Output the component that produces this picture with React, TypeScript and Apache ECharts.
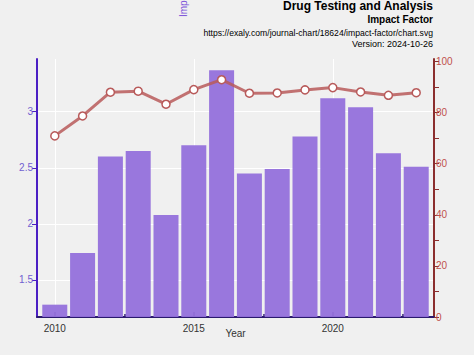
import React, { useEffect, useRef } from "react";
import * as echarts from "echarts";

const years = [2010, 2011, 2012, 2013, 2014, 2015, 2016, 2017, 2018, 2019, 2020, 2021, 2022, 2023];
const impactFactor = [1.28, 1.74, 2.6, 2.65, 2.08, 2.7, 3.37, 2.45, 2.49, 2.78, 3.12, 3.04, 2.63, 2.51];
const percentile = [70.9, 78.7, 88.0, 88.4, 83.3, 89.0, 92.9, 87.6, 87.7, 88.9, 89.8, 88.1, 86.8, 87.8];
const xLabelTicks = [2010, 2015, 2020];
const xMinorTicks = [2012.5, 2017.5, 2022.5];
const leftTicks = [1.5, 2, 2.5, 3];
const rightLabelTicks = [0, 20, 40, 60, 80, 100];
const rightAllTicks = [0, 10, 20, 30, 40, 50, 60, 70, 80, 90, 100];

const FONT = "Liberation Sans, Arial, sans-serif";

export default function App() {
  const ref = useRef<HTMLDivElement>(null);
  useEffect(() => {
    const chart = echarts.init(ref.current!, null, { renderer: "svg" });
    chart.setOption({
      animation: false,
      backgroundColor: "#f0f0f0",
      textStyle: { fontFamily: FONT },
      grid: { left: 37, right: 40, top: 59, bottom: 38 },
      xAxis: [
        {
          type: "value",
          min: 2009.36,
          max: 2023.64,
          axisLine: { show: true, lineStyle: { color: "#2b1a6e", width: 2 } },
          axisTick: { show: true, inside: true, length: 5, customValues: xLabelTicks, lineStyle: { color: "#2b1a6e", width: 1.5 } },
          axisLabel: { customValues: xLabelTicks, formatter: (v: number) => String(v), color: "#333", fontSize: 10, fontFamily: FONT, margin: 6 },
          splitLine: { show: false },
          name: "Year",
          nameLocation: "middle",
          nameGap: 11,
          nameMoveOverlap: false,
          nameTextStyle: { color: "#333", fontSize: 10, fontFamily: FONT },
        },
        {
          type: "value",
          min: 2009.36,
          max: 2023.64,
          position: "bottom",
          axisLine: { show: false },
          axisTick: { show: true, inside: true, length: 3, customValues: xMinorTicks, lineStyle: { color: "#2b1a6e", width: 1.5 } },
          axisLabel: { show: false },
          splitLine: { show: false },
        },
      ],
      yAxis: [
        {
          type: "value",
          min: 1.17,
          max: 3.47,
          axisLine: { show: true, lineStyle: { color: "#4b1fc4", width: 2 } },
          axisTick: { show: true, length: 5, customValues: leftTicks, lineStyle: { color: "#4b1fc4" } },
          axisLabel: { customValues: leftTicks, color: "#7060d0", fontSize: 10, fontFamily: FONT, margin: 4 },
          splitLine: { show: false },
        },
        {
          type: "value",
          min: 0,
          max: 101,
          position: "right",
          axisLine: { show: true, lineStyle: { color: "#8b2e2e", width: 2 } },
          axisTick: { show: true, length: 5, customValues: rightAllTicks, lineStyle: { color: "#8b2e2e" } },
          axisLabel: { customValues: rightLabelTicks, color: "#c0504d", fontSize: 10, fontFamily: FONT, margin: 2 },
          splitLine: { show: false },
        },
      ],
      graphic: [
        { type: "text", right: 41, top: 0, style: { text: "Drug Testing and Analysis", font: "bold 12px " + FONT, fill: "#000", textAlign: "right" } },
        { type: "text", right: 41, top: 14, style: { text: "Impact Factor", font: "bold 10px " + FONT, fill: "#000", textAlign: "right" } },
        { type: "text", right: 41, top: 28, style: { text: "https://exaly.com/journal-chart/18624/impact-factor/chart.svg", font: "8.6px " + FONT, fill: "#000", textAlign: "right" } },
        { type: "text", right: 41, top: 39, style: { text: "Version: 2024-10-26", font: "9px " + FONT, fill: "#000", textAlign: "right" } },
        { type: "text", x: 183, y: 17, rotation: Math.PI / 2, style: { text: "Impact Factor", font: "10px " + FONT, fill: "#7b52d9", textAlign: "left", textVerticalAlign: "middle" } },
      ],
      series: [
        {
          type: "line",
          xAxisIndex: 0,
          yAxisIndex: 0,
          data: [],
          z: 0,
          silent: true,
          markLine: {
            silent: true,
            z: 0,
            symbol: "none",
            label: { show: false },
            lineStyle: { color: "#ffffff", width: 1, type: "solid" },
            data: [
              ...xLabelTicks.map((v) => ({ xAxis: v })),
              ...leftTicks.map((v) => ({ yAxis: v })),
            ],
          },
        },
        {
          type: "bar",
          xAxisIndex: 0,
          yAxisIndex: 0,
          barWidth: 25,
          itemStyle: { color: "#9370db", opacity: 0.95 },
          data: years.map((y, i) => [y, impactFactor[i]]),
          z: 2,
        },
        {
          type: "line",
          xAxisIndex: 0,
          yAxisIndex: 1,
          symbol: "circle",
          symbolSize: 8,
          lineStyle: { color: "#b85a5a", width: 3, opacity: 0.85 },
          itemStyle: { color: "#ffffff", borderColor: "#b85a5a", borderWidth: 1.5 },
          data: years.map((y, i) => [y, percentile[i]]),
          z: 3,
        },
      ],
    });
    return () => chart.dispose();
  }, []);
  return <div ref={ref} style={{ width: 474, height: 355, position: "absolute", left: 0, top: 0 }} />;
}
